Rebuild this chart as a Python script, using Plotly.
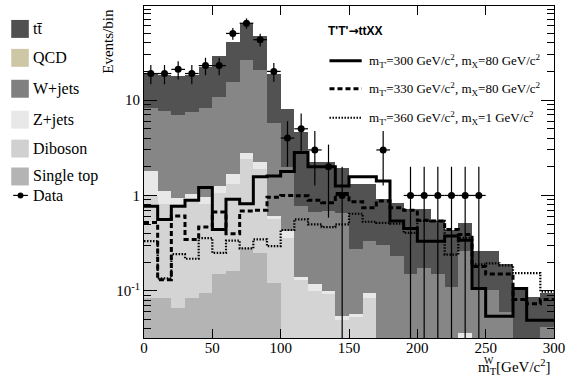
import numpy as np
import plotly.graph_objects as go

bin_edges = [0, 10, 20, 30, 40, 50, 60, 70, 80, 90, 100, 110, 120, 130, 140, 150,
             160, 170, 180, 190, 200, 210, 220, 230, 240, 250, 260, 270, 280, 290, 300]
bin_centers = [5, 15, 25, 35, 45, 55, 65, 75, 85, 95, 105, 115, 125, 135, 145, 155,
               165, 175, 185, 195, 205, 215, 225, 235, 245, 255, 265, 275, 285, 295]

single_top = [0.085, 0.085, 0.066, 0.085, 0.095, 0.15, 0.16, 0.28, 0.25, 0.12, 0.03, 0.02, 0.02, 0.02, 0.02,
              0.02, 0.02, 0.005, 0.005, 0.005, 0.005, 0.005, 0.005, 0.01, 0.005, 0.005, 0.005, 0.005, 0.005, 0.005]
diboson = [0.90, 0.72, 0.75, 0.79, 0.71, 0.92, 1.15, 2.12, 1.64, 0.45, 0.33, 0.11, 0.08, 0.073, 0.030,
           0.033, 0.064, 0.005, 0.005, 0.005, 0.005, 0.005, 0.005, 0.015, 0.005, 0.005, 0.005, 0.005, 0.005, 0.005]
zjets = [0.82, 0.31, 0.13, 0.16, 0.15, 0.19, 0.36, 0.42, 0.33, 0.044, 0.06, 0.011, 0.017, 0.006, 0.005,
         0.0035, 0.011, 0.005, 0.005, 0.005, 0.005, 0.005, 0.005, 0.011, 0.005, 0.005, 0.005, 0.005, 0.005, 0.005]
wjets = [6.5, 6.5, 6.05, 6.4, 7.35, 9.44, 13.7, 23.7, 18.6, 5.09, 1.58, 0.63, 0.56, 0.58, 0.6,
         0.22, 0.235, 0.285, 0.215, 0.135, 0.16, 0.135, 0.095, 0.224, 0.088, 0.088, 0.045, 0.01, 0.01, 0.027]
qcd = [0, 0, 0, 0, 0, 0, 0, 0, 0, 0, 0, 0, 0, 0, 0,
       0, 0, 0, 0, 0, 0, 0, 0, 0, 0, 0, 0, 0, 0, 0]
ttbar = [10.9, 10.5, 10.7, 10.7, 13.8, 18.0, 25.1, 37.5, 25.7, 13.2, 6.1, 3.89, 1.54, 1.54, 1.3,
         1.04, 0.99, 0.62, 0.61, 0.57, 0.545, 0.39, 0.32, 0.26, 0.157, 0.157, 0.13, 0.082, 0.062, 0.053]
data_counts = [19, 19, 21, 19, 23, 23, 50, 64, 43, 20, 4, 5, 3, 2, 1,
               0, 0, 3, 0, 1, 1, 1, 1, 1, 1, 0, 0, 0, 0, 0]
sig_300_80 = [0.77, 0.56, 0.77, 0.89, 1.21, 0.44, 0.91, 0.82, 1.57, 1.6, 1.78, 2.82, 2.0, 2.0, 1.26,
              1.57, 1.57, 1.42, 0.54, 0.45, 0.33, 0.33, 0.375, 0.34, 0.106, 0.054, 0.054, 0.106, 0.049, 0.049]
sig_330_80 = [0.52, 0.131, 0.61, 0.346, 0.466, 0.67, 0.396, 0.687, 0.70, 0.96, 1.0, 0.99, 0.89, 0.84, 1.05,
              0.86, 0.745, 0.875, 0.745, 0.70, 0.55, 0.54, 0.44, 0.39, 0.18, 0.15, 0.15, 0.081, 0.073, 0.081]
sig_360_1 = [0.332, 0.135, 0.242, 0.217, 0.357, 0.25, 0.336, 0.278, 0.346, 0.294, 0.434, 0.562, 0.498, 0.466, 0.498,
             0.643, 0.53, 0.517, 0.505, 0.406, 0.54, 0.54, 0.24, 0.36, 0.189, 0.194, 0.185, 0.153, 0.153, 0.098]

bkg_names = ["Single top", "Diboson", "Z+jets", "W+jets", "QCD", "t\u0074\u0304"]
bkg_values = [single_top, diboson, zjets, wjets, qcd, ttbar]
bkg_colors = ["#b4b4b4", "#d4d4d4", "#e8e8e8", "#868686", "#cdc7a6", "#525252"]

x_ticks = [0, 50, 100, 150, 200, 250, 300]
y_tickvals = [0.1, 1, 10]
y_ticktext = ["10<sup>-1</sup>", "1", "10"]

SERIF = "Liberation Serif, Times New Roman, serif"
SANS = "Liberation Sans, Arial, sans-serif"
DASH = "5px,3px"
DOT = "1.5px,1.5px"

fig = go.Figure()
for name, vals, col in zip(bkg_names, bkg_values, bkg_colors):
    fig.add_trace(go.Bar(x=bin_centers, y=vals, width=10, name=name,
                         marker=dict(color=col, line=dict(width=0)), showlegend=False))

# signal step lines
for vals, dash, w in [(sig_300_80, "solid", 3), (sig_330_80, DASH, 3), (sig_360_1, DOT, 2.2)]:
    fig.add_trace(go.Scatter(x=bin_edges, y=list(vals) + [vals[-1]], mode="lines",
                             line=dict(shape="hv", color="black", width=w, dash=dash),
                             showlegend=False))

# data
dx, dy, eplus, eminus = [], [], [], []
for c, n in zip(bin_centers, data_counts):
    if n > 0:
        dx.append(c)
        dy.append(n)
        s = float(np.sqrt(n))
        eplus.append(s)
        eminus.append(min(s, n - 1e-4))
fig.add_trace(go.Scatter(x=dx, y=dy, mode="markers",
                         marker=dict(color="black", size=7),
                         error_y=dict(type="data", array=eplus, arrayminus=eminus, symmetric=False,
                                      color="black", thickness=1.2, width=0),
                         error_x=dict(type="constant", value=5, color="black", thickness=1.2, width=0),
                         showlegend=False))

# geometry helpers (pixel -> paper)
L, R, T, B = 144, 564, 5, 338
def px(x):
    return (x - L) / (R - L)
def py(y):
    return (B - y) / (B - T)

minor_y = [0.04, 0.05, 0.06, 0.07, 0.08, 0.09, 0.2, 0.3, 0.4, 0.5, 0.6, 0.7, 0.8, 0.9,
           2, 3, 4, 5, 6, 7, 8, 9, 20, 30, 40, 50, 60, 70, 80, 90]

fig.update_layout(
    width=570, height=375,
    margin=dict(l=L, r=570 - R, t=T, b=375 - B),
    paper_bgcolor="white", plot_bgcolor="white",
    barmode="stack", bargap=0,
    font=dict(family=SERIF, size=15, color="black"),
    xaxis=dict(range=[0, 300], tickvals=x_ticks, ticks="inside", ticklen=9, tickwidth=1,
               tickcolor="black", showline=True, linecolor="black", linewidth=1, mirror="allticks",
               showgrid=False, zeroline=False, tickfont=dict(family=SERIF, size=15),
               ticklabeloverflow="allow", ticklabelstandoff=-4),
    yaxis=dict(type="log", range=[np.log10(0.032), np.log10(97)], tickvals=y_tickvals,
               ticktext=y_ticktext, ticks="inside", ticklen=13, tickwidth=1, tickcolor="black",
               showline=True, linecolor="black", linewidth=1, mirror="allticks", showgrid=False,
               zeroline=False, tickfont=dict(family=SERIF, size=15),
               minor=dict(tickvals=minor_y, ticks="inside", ticklen=7, tickcolor="black", showgrid=False)),
)

shapes = []
ann = []

# left legend
leg_items = [("t\u0074\u0304", "#505050", 28), ("QCD", "#cdc7a6", 57), ("W+jets", "#808080", 88),
             ("Z+jets", "#e8e8e8", 119), ("Diboson", "#d0d0d0", 148), ("Single top", "#b4b4b4", 176)]
for label, col, yc in leg_items:
    shapes.append(dict(type="rect", xref="paper", yref="paper", x0=px(8), x1=px(26),
                       y0=py(yc + 9), y1=py(yc - 9), fillcolor=col, line=dict(width=0)))
    ann.append(dict(text=label, xref="paper", yref="paper", x=px(28), y=py(yc), xanchor="left",
                    yanchor="middle", showarrow=False, font=dict(family=SERIF, size=16)))
shapes.append(dict(type="line", xref="paper", yref="paper", x0=px(10), x1=px(25), y0=py(195), y1=py(195),
                   line=dict(color="black", width=1.2)))
shapes.append(dict(type="circle", xref="paper", yref="paper", x0=px(14.5), x1=px(20.5), y0=py(198), y1=py(192),
                   fillcolor="black", line=dict(width=0)))
ann.append(dict(text="Data", xref="paper", yref="paper", x=px(28), y=py(195), xanchor="left",
                yanchor="middle", showarrow=False, font=dict(family=SERIF, size=16)))

# top-right legend
ann.append(dict(text="<b>T'T'<span style='font-family:DejaVu Sans'>\u2192</span>ttXX</b>", xref="paper",
                yref="paper", x=px(330), y=py(30), xanchor="left",
                yanchor="middle", showarrow=False, font=dict(family=SANS, size=12)))
sig_labels = [
    ("m<sub>T'</sub>=300 GeV/c<sup>2</sup>, m<sub>X</sub>=80 GeV/c<sup>2</sup>", "solid", 3, 60),
    ("m<sub>T'</sub>=330 GeV/c<sup>2</sup>, m<sub>X</sub>=80 GeV/c<sup>2</sup>", DASH, 3, 88),
    ("m<sub>T'</sub>=360 GeV/c<sup>2</sup>, m<sub>X</sub>=1 GeV/c<sup>2</sup>", DOT, 2, 117),
]
for text, dash, w, yc in sig_labels:
    shapes.append(dict(type="line", xref="paper", yref="paper", x0=px(334), x1=px(367), y0=py(yc), y1=py(yc),
                       line=dict(color="black", width=w, dash=dash)))
    ann.append(dict(text=text, xref="paper", yref="paper", x=px(372), y=py(yc), xanchor="left",
                    yanchor="middle", showarrow=False, font=dict(family=SERIF, size=13)))

# axis titles
ann.append(dict(text="Events/bin", xref="paper", yref="paper", x=px(107), y=py(40), xanchor="center",
                yanchor="middle", textangle=-90, showarrow=False, font=dict(family=SERIF, size=15)))
ann.append(dict(text="m<sub>T</sub>[GeV/c<sup>2</sup>]", xref="paper", yref="paper", x=px(563), y=py(367),
                xanchor="right", yanchor="middle", showarrow=False, font=dict(family=SERIF, size=15)))
ann.append(dict(text="W", xref="paper", yref="paper", x=px(497), y=py(361), xanchor="center",
                yanchor="middle", showarrow=False, font=dict(family=SERIF, size=10)))

fig.update_layout(shapes=shapes, annotations=ann)
fig.write_html("out.html", config={"displayModeBar": False},
               post_script="document.body.style.margin='0';")
